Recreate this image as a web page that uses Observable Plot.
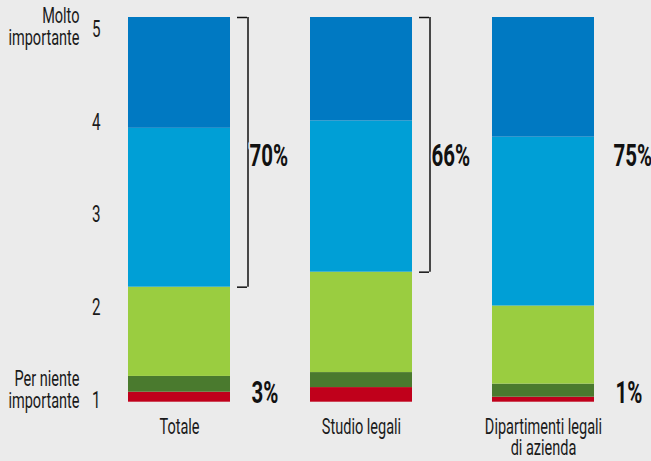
<!DOCTYPE html>
<html>
<head>
<meta charset="utf-8">
<script src="https://cdn.jsdelivr.net/npm/d3@7"></script>
<script src="https://cdn.jsdelivr.net/npm/@observablehq/plot@0.6"></script>
<style>
  html, body { margin: 0; padding: 0; background: #ebebeb; }
  #chart svg { background: #ebebeb; display: block; }
</style>
</head>
<body>
<div id="chart"></div>
<script>
const categories = ["Totale", "Studio legali", "Dipartimenti legali\ndi azienda"];
const scores = [1, 2, 3, 4, 5];
const colors = ["#c0001b", "#4a7a2e", "#9acd40", "#009fd6", "#0079c2"];
const totale = [2.6, 4.1, 23.2, 41.3, 28.8];
const studioLegali = [3.8, 3.9, 26.1, 39.3, 26.9];
const dipartimenti = [1.3, 3.4, 20.3, 43.9, 31.1];
const topLabels = ["70%", "66%", "75%"];
const bottomLabels = ["3%", "", "1%"];
const bracketed = [true, true, false];
const yTickLabels = ["1", "2", "3", "4", "5"];
const topAxisLabel = "Molto\nimportante";
const bottomAxisLabel = "Per niente\nimportante";

const series = [totale, studioLegali, dipartimenti];
const data = categories.flatMap((c, i) =>
  series[i].map((v, j) => ({category: c, score: scores[j], value: v}))
);
const brackets = categories
  .map((c, i) => ({category: c, low: d3.sum(series[i].slice(0, 3)), show: bracketed[i]}))
  .filter(d => d.show);
const annot = categories.map((c, i) => ({category: c, top: topLabels[i], bottom: bottomLabels[i]}));
// tick positions for the 1..5 scale labels, spread over the bar height
const tickPos = yTickLabels.map((t, i) => 0.5 + i * 24.1);

const font = "Roboto, 'Noto Sans', sans-serif";
const ink = "#1a1a1a";
const squeeze = 0.66; // condensed look

const chart = Plot.plot({
  width: 651,
  height: 461,
  marginTop: 17,
  marginBottom: 59.3,
  marginLeft: 127,
  marginRight: 55,
  style: {fontFamily: font, background: "#ebebeb", color: ink},
  x: {domain: categories, paddingInner: 0.437, paddingOuter: 0, label: null},
  y: {domain: [0, 100], label: null},
  color: {type: "ordinal", domain: scores, range: colors},
  marks: [
    Plot.barY(data, {x: "category", y: "value", fill: "score", order: null}),
    Plot.axisY({ticks: tickPos, tickFormat: (d, i) => yTickLabels[i], tickSize: 0, tickPadding: 27, fontSize: 23, label: null}),
    Plot.axisX({tickSize: 0, tickPadding: 17, fontSize: 22, lineHeight: 0.95, label: null}),
    Plot.text([topAxisLabel], {text: d => d, frameAnchor: "top-left", dx: -48, dy: -10, textAnchor: "end", lineAnchor: "top", fontSize: 22, lineHeight: 1, fill: ink}),
    Plot.text([bottomAxisLabel], {text: d => d, frameAnchor: "bottom-left", dx: -48, dy: -32, textAnchor: "end", lineAnchor: "top", fontSize: 22, lineHeight: 1, fill: ink}),
    Plot.ruleX(brackets, {x: "category", y1: "low", y2: () => 100, dx: 68.5, stroke: "#111", strokeWidth: 1.5}),
    Plot.tickY(brackets, {x: "category", y: "low", dx: 17, insetLeft: 92, stroke: "#111", strokeWidth: 1.5}),
    Plot.tickY(brackets, {x: "category", y: () => 100, dx: 17, insetLeft: 92, stroke: "#111", strokeWidth: 1.5}),
    Plot.text(annot, {x: "category", y: () => 64, text: "top", dx: 70, textAnchor: "start", fontSize: 31, fontWeight: "bold", fill: "#111", stroke: "#ebebeb", strokeWidth: 5}),
    Plot.text(annot, {x: "category", y: () => 2.5, text: "bottom", dx: 72, textAnchor: "start", fontSize: 31, fontWeight: "bold", fill: "#111"})
  ]
});
document.getElementById("chart").appendChild(chart);

// condense all text horizontally around its own anchor point
d3.select(chart).selectAll("text").each(function() {
  const el = this;
  const bb = el.getBBox();
  const anchor = getComputedStyle(el).textAnchor;
  const ax = anchor === "end" ? bb.x + bb.width : anchor === "middle" ? bb.x + bb.width / 2 : bb.x;
  const t = el.getAttribute("transform") || "";
  el.setAttribute("transform", `${t} translate(${ax},0) scale(${squeeze},1) translate(${-ax},0)`.trim());
});
</script>
</body>
</html>
